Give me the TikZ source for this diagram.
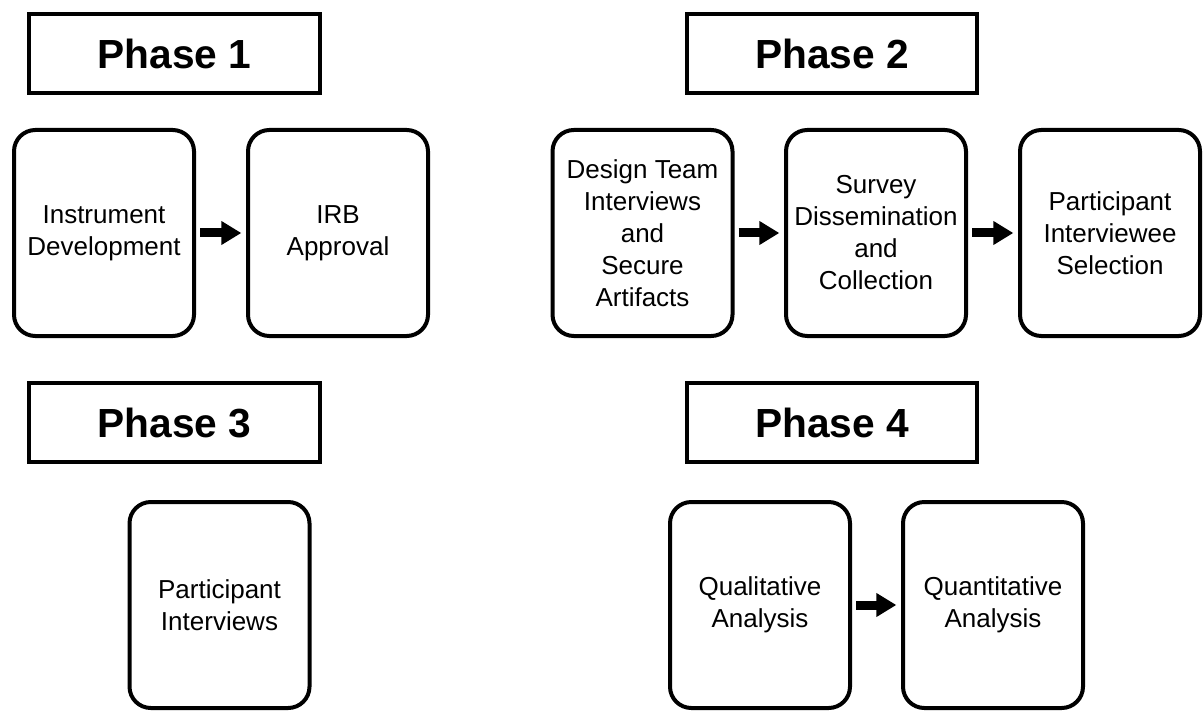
\documentclass[tikz,border=0pt]{standalone}
\usepackage{fontspec}
\setmainfont{Liberation Sans}
\usetikzlibrary{arrows.meta}

\tikzset{
  phase/.style={draw, line width=3pt, minimum width=218pt, minimum height=59pt, inner sep=0.75pt, font=\bfseries\fontsize{30.5}{36}\selectfont},
  task/.style={draw, line width=3pt, rounded corners=16pt, minimum width=135pt, minimum height=154.5pt, inner sep=0.75pt, align=center, font=\fontsize{19.5}{24}\selectfont},
  flow/.style={line width=6.75pt, -{Triangle[length=15pt,width=17pt]}, shorten <=3pt, shorten >=3.5pt}
}

\begin{document}
\begin{tikzpicture}[x=0.75pt,y=0.75pt,yscale=-1,xscale=1]
\useasboundingbox (0,0) rectangle (1204,713);

%Phase titles
\node (ph1) at (174.5,53.5) [phase] {Phase 1};
\node (ph2) at (832,53.5) [phase] {Phase 2};
\node (ph3) at (174.5,422.5) [phase] {Phase 3};
\node (ph4) at (832,422.5) [phase] {Phase 4};

%Rounded Rect - phase 1
\node (instr) at (104,233) [task] {Instrument\\Development};
\node (irb) at (338,233) [task] {IRB\\Approval};
%Rounded Rect - phase 2
\node (design) at (642.5,233) [task] {Design Team\\Interviews\\and\\Secure\\Artifacts};
\node (survey) at (876,233) [task] {Survey\\Dissemination\\and\\Collection};
\node (select) at (1110,233) [task] {Participant\\Interviewee\\Selection};
%Rounded Rect - phase 3
\node (interv) at (219.5,605) [task] {Participant\\Interviews};
%Rounded Rect - phase 4
\node (qual) at (760,605) [task] {Qualitative\\Analysis};
\node (quant) at (993,605) [task] {Quantitative\\Analysis};

%Arrows
\draw [flow] (instr) -- (irb);
\draw [flow] (design) -- (survey);
\draw [flow] (survey) -- (select);
\draw [flow] (qual) -- (quant);

\end{tikzpicture}
\end{document}
